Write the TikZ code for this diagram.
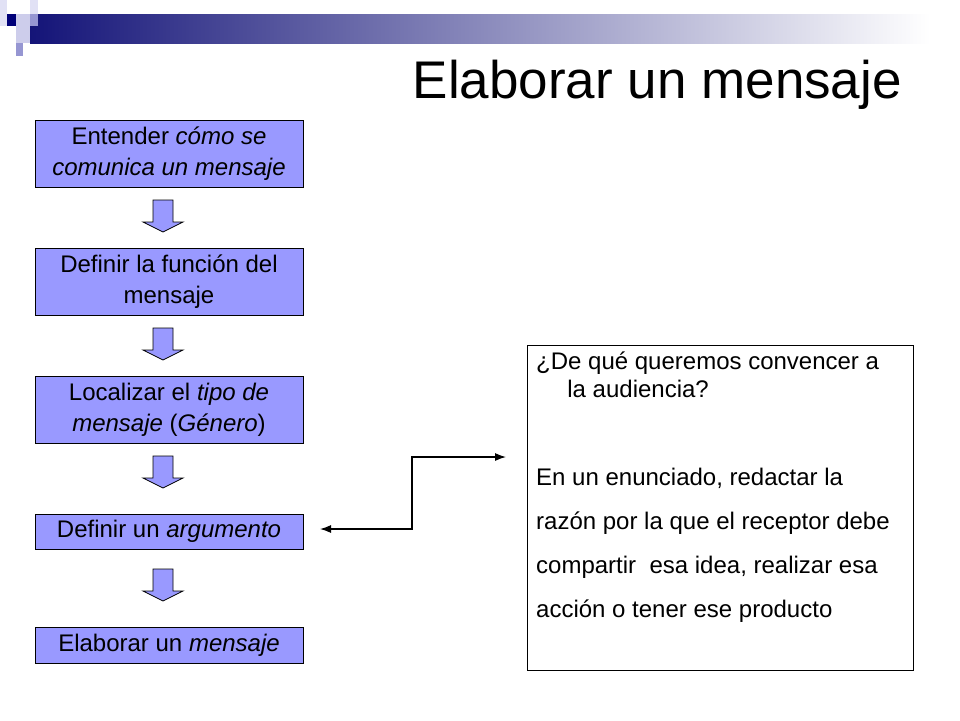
\documentclass[tikz,border=0pt]{standalone}
\usepackage{fontspec}
\setmainfont{Liberation Sans}
\usetikzlibrary{arrows.meta}
\definecolor{boxblue}{RGB}{153,153,255}
\definecolor{navy}{RGB}{20,20,120}
\definecolor{navyd}{RGB}{0,0,120}
\definecolor{sqa}{RGB}{205,205,235}
\definecolor{sqb}{RGB}{150,150,210}
\definecolor{sqc}{RGB}{225,225,245}
\begin{document}
\begin{tikzpicture}[x=1pt,y=-1pt,
  stepbox/.style={draw=black,fill=boxblue,minimum width=268pt,align=center,font=\fontsize{24}{31}\selectfont,inner sep=0pt},
  barrow/.style={draw=black,fill=boxblue,line width=0.8pt},
  conn/.style={line width=1.2pt}]
\useasboundingbox (0,0) rectangle (960,720);
\shade[left color=navy,right color=white] (30,14) rectangle (930,43);
\fill[navyd] (7,14) rectangle (16,26);
\fill[sqa] (16,14) rectangle (30,26);
\fill[sqb] (30,14) rectangle (38,26);
\fill[sqc] (30,0) rectangle (38,14);
\fill[sqa] (16,26) rectangle (30,43);
\fill[sqb] (16,43) rectangle (23,56);
\fill[sqc] (0,0) rectangle (7,26);
\node[font=\fontsize{53}{56}\selectfont,anchor=east,inner sep=0pt] (title) at (902,85) {Elaborar un mensaje};
\node[stepbox,minimum height=67pt] (b1) at (169,153.5) {Entender \textit{cómo se}\\\textit{comunica un mensaje}};
\node[stepbox,minimum height=67pt] (b2) at (169,281.5) {Definir la función del\\mensaje};
\node[stepbox,minimum height=67pt] (b3) at (169,409.5) {Localizar el \textit{tipo de}\\\textit{mensaje} (\textit{Género})};
\node[stepbox,minimum height=35pt] (b4) at (169,531.5) {Definir un \textit{argumento}};
\node[stepbox,minimum height=36pt] (b5) at (169,645) {Elaborar un \textit{mensaje}};
\foreach \y in {200,328,456,569}{
  \draw[barrow] (153,\y) -- (173,\y) -- (173,\y+22) -- (183,\y+22) -- (163,\y+32) -- (143,\y+22) -- (153,\y+22) -- cycle;
}
\node[draw=black,minimum width=386pt,minimum height=325pt] (rb) at (720,507.5) {};
\node[anchor=north west,align=left,font=\fontsize{24}{28}\selectfont,inner sep=0pt] (t1) at (536,352) {¿De qué queremos convencer a\\\hspace*{1.3em}la audiencia?};
\node[anchor=north west,align=left,font=\fontsize{24}{44}\selectfont,inner sep=0pt] (t2) at (536,468) {En un enunciado, redactar la\\razón por la que el receptor debe\\compartir\ \ esa idea, realizar esa\\acción o tener ese producto};
\coordinate (cr) at (506,457);
\coordinate (cl) at (320,529);
\draw[conn,{Latex[length=11pt,width=8pt]}-{Latex[length=11pt,width=8pt]}] (cl) -- (412,529) -- (412,457) -- (cr);
\end{tikzpicture}
\end{document}
